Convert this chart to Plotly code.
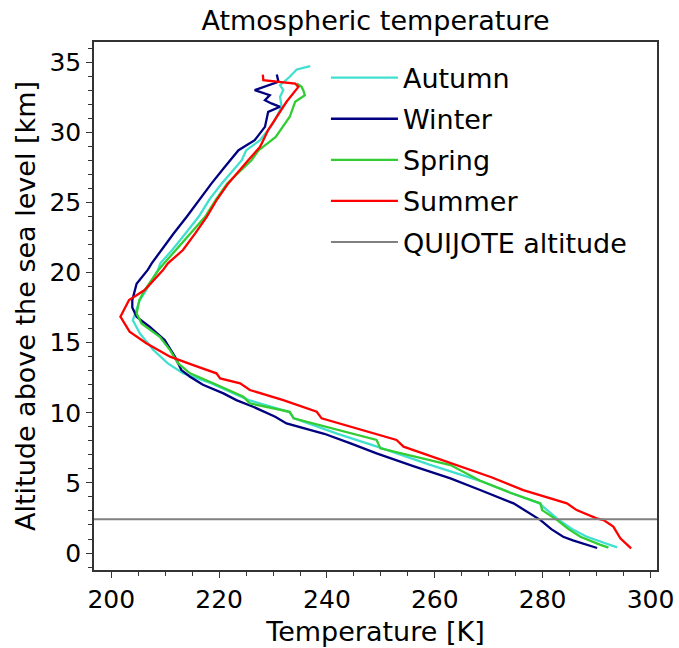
import plotly.graph_objects as go

# Seasonal mean temperature profiles (altitude in km, temperature in K)
autumn_alt = [0.4, 0.7, 1.16, 1.7, 2.35, 3.0, 3.56, 4.3, 5.15, 6.3, 7.5, 8.5, 9.6, 10.05,
              10.9, 11.5, 12.1, 12.81, 13.52, 14.47, 15.66, 16.6, 17.08, 18.03, 18.75,
              20.2, 20.65, 21.6, 22.8, 23.97, 25.2, 26.35, 28.0, 28.7, 29.43, 30.62,
              31.81, 32.52, 33.0, 33.35, 33.95, 34.47, 34.71]
autumn_temp = [293.8, 291.5, 288.2, 285.5, 283.0, 281.0, 279.3, 274.0, 268.4, 259.0, 250.0,
               242.0, 233.9, 233.0, 225.5, 222.0, 218.5, 213.3, 210.5, 207.8, 205.3, 204.0,
               204.4, 205.3, 206.5, 208.7, 209.1, 211.3, 213.8, 216.2, 218.2, 220.5, 224.2,
               225.0, 227.6, 230.0, 231.6, 231.3, 231.9, 231.3, 233.1, 234.4, 236.9]

winter_alt = [0.36, 0.57, 0.9, 1.16, 1.7, 2.35, 3.0, 3.54, 4.49, 5.32, 6.2, 7.1, 7.8, 8.5,
              9.24, 9.72, 10.43, 10.9, 11.38, 12.0, 12.57, 13.04, 14.0, 15.18,
              16.13, 16.84, 17.5, 18.03, 19.2, 20.2, 20.65, 21.6, 22.8, 23.97, 25.2,
              26.35, 27.5, 28.0, 28.72, 29.43, 30.38, 31.45, 31.81, 32.05, 32.28, 32.64,
              33.0, 33.59, 34.11]
winter_temp = [290.1, 288.2, 285.6, 283.8, 281.6, 279.6, 277.0, 274.6, 268.4, 262.9, 256.0,
               249.2, 244.5, 239.5, 232.5, 230.4, 226.3, 223.2, 220.8, 217.0, 214.6,
               213.0, 211.8, 209.9, 207.1, 204.7, 203.9, 203.9, 204.7, 206.8, 207.5, 209.3,
               211.6, 214.0, 216.3, 218.6, 221.0, 222.0, 223.6, 226.6, 228.5, 229.1, 231.3,
               229.7, 228.5, 229.4, 226.6, 231.0, 230.7]

spring_alt = [0.38, 0.6, 1.16, 1.7, 2.35, 3.06, 3.54, 4.3, 5.15, 6.27, 7.46, 8.06, 9.6,
              10.07, 10.67, 11.14, 12.1, 12.81, 13.52, 14.47, 15.42, 16.37, 17.08, 18.03,
              18.75, 20.2, 20.65, 21.6, 22.8, 23.97, 25.2, 26.35, 28.0, 28.7, 29.67,
              31.1, 32.17, 32.64, 33.0, 33.23, 33.47]
spring_temp = [292.2, 290.6, 287.0, 284.8, 282.7, 279.9, 279.6, 274.0, 268.4, 262.9, 249.9,
               249.2, 233.8, 233.1, 225.7, 224.5, 218.9, 214.6, 212.4, 210.9, 209.0, 205.6,
               204.7, 205.2, 206.2, 208.8, 209.8, 212.0, 214.8, 217.4, 219.4, 221.5, 226.0,
               227.3, 230.5, 233.1, 234.1, 235.9, 235.6, 235.3, 234.4]

summer_alt = [0.33, 1.05, 1.88, 2.35, 2.47, 3.06, 3.54, 4.49, 5.4, 6.27, 7.58, 8.06, 8.65,
              9.6, 10.07, 10.9, 11.62, 12.1, 12.45, 12.81, 13.4, 14.0, 14.95, 15.78, 16.85,
              18.04, 18.75, 20.17, 20.65, 21.6, 22.8, 23.97, 25.2, 26.35, 28.0, 28.96, 30.15,
              31.1, 32.17, 33.23, 33.47, 33.71, 34.11]
summer_temp = [296.4, 294.4, 293.1, 291.3, 290.0, 286.3, 284.5, 276.4, 270.5, 264.1, 254.2,
               252.9, 247.4, 239.0, 238.1, 231.9, 225.7, 223.9, 220.2, 219.5, 215.2, 210.9,
               206.5, 203.4, 201.7, 203.3, 206.2, 209.6, 210.5, 213.3, 215.6, 217.7, 219.6,
               221.7, 225.4, 227.6, 229.1, 230.7, 232.5, 234.7, 234.1, 228.2, 228.1]

quijote_altitude = 2.4  # km

season_names = ["Autumn", "Winter", "Spring", "Summer"]
season_colors = ["#40E0D0", "#000080", "#32CD32", "#FF0000"]
season_alts = [autumn_alt, winter_alt, spring_alt, summer_alt]
season_temps = [autumn_temp, winter_temp, spring_temp, summer_temp]

X_RANGE = [196.8, 301.2]
Y_RANGE = [-1.21, 36.43]
FONT = "DejaVu Sans"

fig = go.Figure()
for name, color, alt, temp in zip(season_names, season_colors, season_alts, season_temps):
    fig.add_trace(go.Scatter(x=temp, y=alt, mode="lines", name=name, legendgroup=name,
                             line=dict(color=color, width=2.3)))

fig.add_trace(go.Scatter(x=X_RANGE, y=[quijote_altitude, quijote_altitude], mode="lines",
                         name="QUIJOTE altitude", legendgroup="quijote",
                         line=dict(color="#808080", width=2)))

axis_common = dict(showline=True, linecolor="#333333", linewidth=1.5, mirror=True,
                   ticks="outside", ticklen=6, tickwidth=1.3, tickcolor="#333333",
                   showgrid=False, zeroline=False, automargin=False,
                   tickfont=dict(family=FONT, size=25, color="black"))

fig.update_layout(
    width=679, height=648,
    margin=dict(l=94, r=22, t=42, b=78),
    paper_bgcolor="white", plot_bgcolor="white",
    title=dict(text="Atmospheric temperature", x=0.553, xanchor="center",
               y=1 - 21 / 648, yanchor="middle", yref="container",
               font=dict(family=FONT, size=27, color="black")),
    xaxis=dict(range=X_RANGE, dtick=20, tick0=200,
               minor=dict(dtick=5, tick0=200, ticks="outside", ticklen=4, tickcolor="#333333"),
               title=dict(text="Temperature [K]", standoff=9,
                          font=dict(family=FONT, size=27, color="black")),
               **axis_common),
    yaxis=dict(range=Y_RANGE, dtick=5, tick0=0,
               minor=dict(dtick=1, tick0=0, ticks="outside", ticklen=4, tickcolor="#333333"),
               title=dict(text="Altitude above the sea level [km]", standoff=6,
                          font=dict(family=FONT, size=27, color="black")),
               **axis_common),
    legend=dict(x=0.412, y=0.978, xanchor="left", yanchor="top", bgcolor="rgba(0,0,0,0)",
                borderwidth=0, tracegroupgap=3, itemwidth=67,
                font=dict(family=FONT, size=27, color="black")),
)

fig.write_html("out.html")
